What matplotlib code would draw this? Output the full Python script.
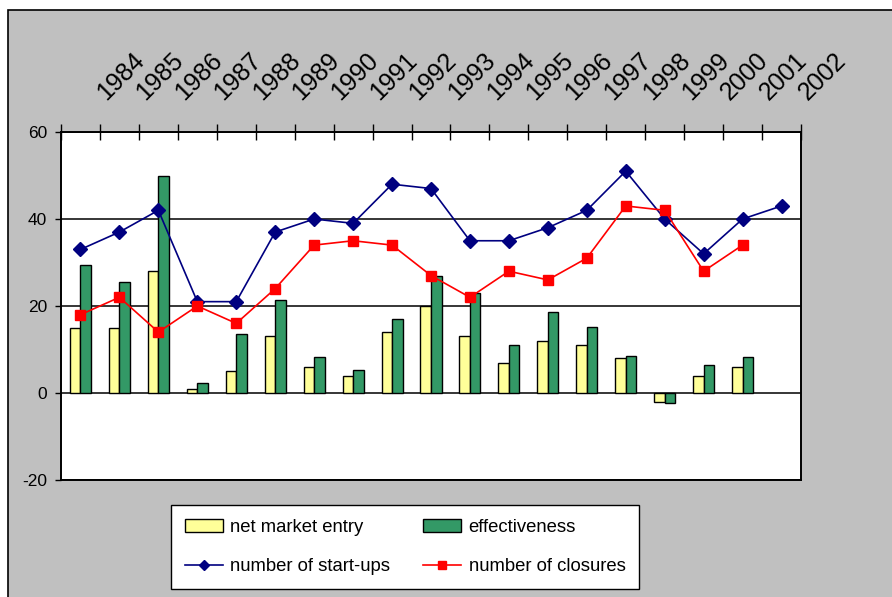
import numpy as np
import matplotlib
matplotlib.use("Agg")
import matplotlib.pyplot as plt
import matplotlib.patches as patches
import matplotlib.transforms as mtransforms
from matplotlib.lines import Line2D

plt.rcParams['font.family'] = ['Liberation Sans', 'DejaVu Sans']

# data
years = [str(y) for y in range(1984, 2003)]
startups = [33, 37, 42, 21, 21, 37, 40, 39, 48, 47, 35, 35, 38, 42, 51, 40, 32, 40, 43]
closures = [18, 22, 14, 20, 16, 24, 34, 35, 34, 27, 22, 28, 26, 31, 43, 42, 28, 34, np.nan]
net_entry = [15, 15, 28, 1, 5, 13, 6, 4, 14, 20, 13, 7, 12, 11, 8, -2, 4, 6, np.nan]
effectiveness = [29.5, 25.6, 49.8, 2.3, 13.5, 21.3, 8.2, 5.3, 17, 27, 23, 11.1, 18.7, 15.1,
                 8.6, -2.3, 6.5, 8.2, np.nan]
yticks = [-20, 0, 20, 40, 60]

W, H = 892, 597
fig = plt.figure(figsize=(W / 100, H / 100), dpi=100, facecolor='white')

# grey chart area with a border on the top and left
bg = patches.Rectangle((8 / W, -0.1), 1.2, 1 - 10 / H + 0.1, transform=fig.transFigure,
                       facecolor='#C0C0C0', edgecolor='black', linewidth=1.2, zorder=-10)
fig.patches.append(bg)

ax = fig.add_axes([61 / W, 1 - 480 / H, (801 - 61) / W, (480 - 132) / H])
ax.set_facecolor('white')

x = np.arange(len(years))
bw = 0.27
ax.bar(x - bw / 2, net_entry, bw, color='#FFFF99', edgecolor='black', linewidth=1.0, zorder=3)
ax.bar(x + bw / 2, effectiveness, bw, color='#339966', edgecolor='black', linewidth=1.0, zorder=3)
ax.plot(x, startups, color='#000080', linewidth=1.2, marker='D', markersize=7, zorder=4)
ax.plot(x, closures, color='#FF0000', linewidth=1.2, marker='s', markersize=7, zorder=4)

ax.set_xlim(-0.5, len(years) - 0.5)
ax.set_ylim(-20, 60)
ax.set_yticks(yticks)
ax.set_yticklabels([str(v) for v in yticks])
ax.yaxis.grid(True, color='black', linewidth=1.1, zorder=1)
ax.set_axisbelow(True)

# category boundary ticks on top, labels drawn by hand
ax.set_xticks(np.arange(-0.5, len(years), 1))
ax.set_xticklabels([])
ax.tick_params(axis='x', which='both', bottom=False, top=True, direction='inout',
               length=12, width=1.0, color='black')
ax.tick_params(axis='y', direction='out', length=4.5, width=1.0, pad=5.5,
               labelsize=12.5, colors='black')

for sp in ax.spines.values():
    sp.set_color('black')
    sp.set_linewidth(1.4)

trans = mtransforms.blended_transform_factory(ax.transData, ax.transAxes)
trans = mtransforms.offset_copy(trans, fig=fig, x=26, y=31, units='dots')
for i, yr in enumerate(years):
    ax.text(i, 1, yr, transform=trans, rotation=45, rotation_mode='anchor',
            ha='left', va='baseline', fontsize=18, color='black')

handles = [
    patches.Patch(facecolor='#FFFF99', edgecolor='black', linewidth=1.0),
    Line2D([], [], color='#000080', linewidth=1.2, marker='D', markersize=5.5),
    patches.Patch(facecolor='#339966', edgecolor='black', linewidth=1.0),
    Line2D([], [], color='#FF0000', linewidth=1.2, marker='s', markersize=5.5),
]
labels = ['net market entry', 'number of start-ups', 'effectiveness', 'number of closures']
leg = fig.legend(handles, labels, loc='upper left', bbox_to_anchor=(171 / W, 1 - 505 / H),
                 ncol=2, frameon=True, fancybox=False, edgecolor='black', facecolor='white',
                 framealpha=1, fontsize=13.3, handlelength=2.05, handletextpad=0.4,
                 columnspacing=1.8, labelspacing=1.2, borderpad=0.75, borderaxespad=0)
leg.get_frame().set_linewidth(1.0)

fig.savefig('out.png', dpi=100, facecolor=fig.get_facecolor())
